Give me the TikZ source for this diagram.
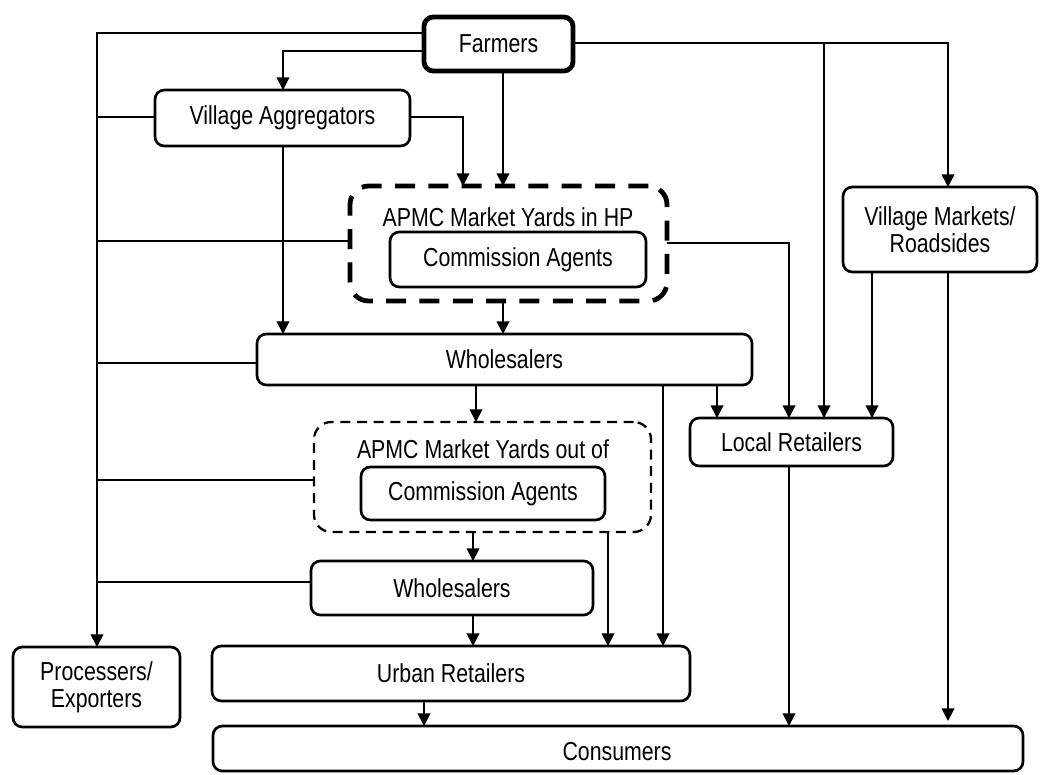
\documentclass[tikz,border=0pt]{standalone}
\usepackage{fontspec}
\setmainfont[FakeStretch=0.82]{Liberation Sans}
\usetikzlibrary{arrows.meta}
\def\pxu{0.75pt}
\begin{document}
\begin{tikzpicture}[x=0.75pt,y=-0.75pt,
  font=\fontsize{19.5}{20}\selectfont,
  box/.style={draw,line width=2pt,rounded corners=7pt,inner sep=0pt,outer sep=0pt,align=center},
  thickbox/.style={box,line width=3.6pt},
  hpdash/.style={draw,line width=3.6pt,rounded corners=14pt,dash pattern=on 15pt off 10pt,inner sep=0pt,outer sep=0pt},
  outdash/.style={draw,line width=1.7pt,rounded corners=13pt,dash pattern=on 7.5pt off 5pt,inner sep=0pt,outer sep=0pt},
  lbl/.style={inner sep=0pt},
  conn/.style={line width=1.4pt},
  arr/.style={conn,-{Triangle[length=9.5pt,width=9.5pt]}}]
\useasboundingbox (0,0) rectangle (1041,774);

% nodes
\node[thickbox,minimum width=149*\pxu,minimum height=54*\pxu] (farmers) at (498.5,44) {Farmers};
\node[box,minimum width=255*\pxu,minimum height=56*\pxu] (va) at (282.5,118) {Village Aggregators};
\node[hpdash,minimum width=317*\pxu,minimum height=115*\pxu] (hpbox) at (508.5,243.5) {};
\node[lbl] (hplabel) at (508,217) {APMC Market Yards in HP};
\node[box,minimum width=256*\pxu,minimum height=55*\pxu] (cahp) at (518,259.5) {Commission Agents};
\node[box,minimum width=194*\pxu,minimum height=85*\pxu] (vm) at (940,229.5) {Village Markets/\\Roadsides};
\node[box,minimum width=495*\pxu,minimum height=51*\pxu] (wh1) at (504.5,359.5) {Wholesalers};
\node[box,minimum width=203*\pxu,minimum height=48*\pxu] (lr) at (791.5,442) {Local Retailers};
\node[outdash,minimum width=337*\pxu,minimum height=110*\pxu] (outbox) at (482.5,477) {};
\node[lbl] (outlabel) at (483,449) {APMC Market Yards out of};
\node[box,minimum width=244*\pxu,minimum height=53*\pxu] (caout) at (483,493.5) {Commission Agents};
\node[box,minimum width=282*\pxu,minimum height=54*\pxu] (wh2) at (452,588) {Wholesalers};
\node[box,minimum width=478*\pxu,minimum height=55*\pxu] (urban) at (451,673.5) {Urban Retailers};
\node[box,minimum width=167*\pxu,minimum height=80*\pxu] (proc) at (96.5,687) {Processers/\\Exporters};
\node[box,minimum width=810*\pxu,minimum height=45*\pxu] (cons) at (618,748.5) {};
\node[lbl] (conslabel) at (617,752) {Consumers};

% lane coordinates
\coordinate (trunk) at (97,33);
\coordinate (f2) at (283,51);
\coordinate (fr) at (948,43);
\coordinate (fb) at (824,43);
\coordinate (vae) at (463,117);
\coordinate (fs) at (503,71);
\coordinate (cae) at (789,243);

% connectors from Farmers
\draw[arr] (farmers.west |- trunk) -- (trunk) -- (trunk |- proc.north);
\draw[arr] (farmers.west |- f2) -- (f2) -- (f2 |- va.north);
\draw[arr] (fs) -- (fs |- hpbox.north);
\draw[arr] (farmers.east |- fr) -- (fr) -- (fr |- vm.north);
\draw[arr] (fb) -- (fb |- lr.north);

% Village Aggregators
\draw[conn] (va.west |- vae) -- (trunk |- vae);
\draw[arr] (va.east |- vae) -- (vae) -- (vae |- hpbox.north);
\draw[arr] (va.south -| f2) -- (f2 |- wh1.north);

% APMC in HP
\draw[conn] (hpbox.west |- 0,241) -- (trunk |- 0,241);
\draw[arr] (hpbox.east |- cae) -- (cae) -- (cae |- lr.north);
\draw[arr] (hpbox.south -| fs) -- (fs |- wh1.north);

% Wholesalers
\draw[conn] (wh1.west |- 0,363) -- (trunk |- 0,363);
\draw[arr] (wh1.south -| 476,0) -- (476,0 |- outbox.north);
\draw[arr] (wh1.south -| 663,0) -- (663,0 |- urban.north);
\draw[arr] (wh1.south -| 717,0) -- (717,0 |- lr.north);

% Village Markets
\draw[arr] (vm.south -| 872,0) -- (872,0 |- lr.north);
\draw[arr] (vm.south -| fr) -- (948,721);

% APMC out of
\draw[conn] (outbox.west |- 0,480) -- (trunk |- 0,480);
\draw[arr] (outbox.south -| 473,0) -- (473,0 |- wh2.north);
\draw[arr] (outbox.south -| 608,0) -- (608,0 |- urban.north);

% Wholesalers 2
\draw[conn] (wh2.west |- 0,582) -- (trunk |- 0,582);
\draw[arr] (wh2.south -| 473,0) -- (473,0 |- urban.north);

% to consumers
\draw[arr] (urban.south -| 424,0) -- (424,0 |- cons.north);
\draw[arr] (lr.south -| cae) -- (cae |- cons.north);
\end{tikzpicture}
\end{document}
